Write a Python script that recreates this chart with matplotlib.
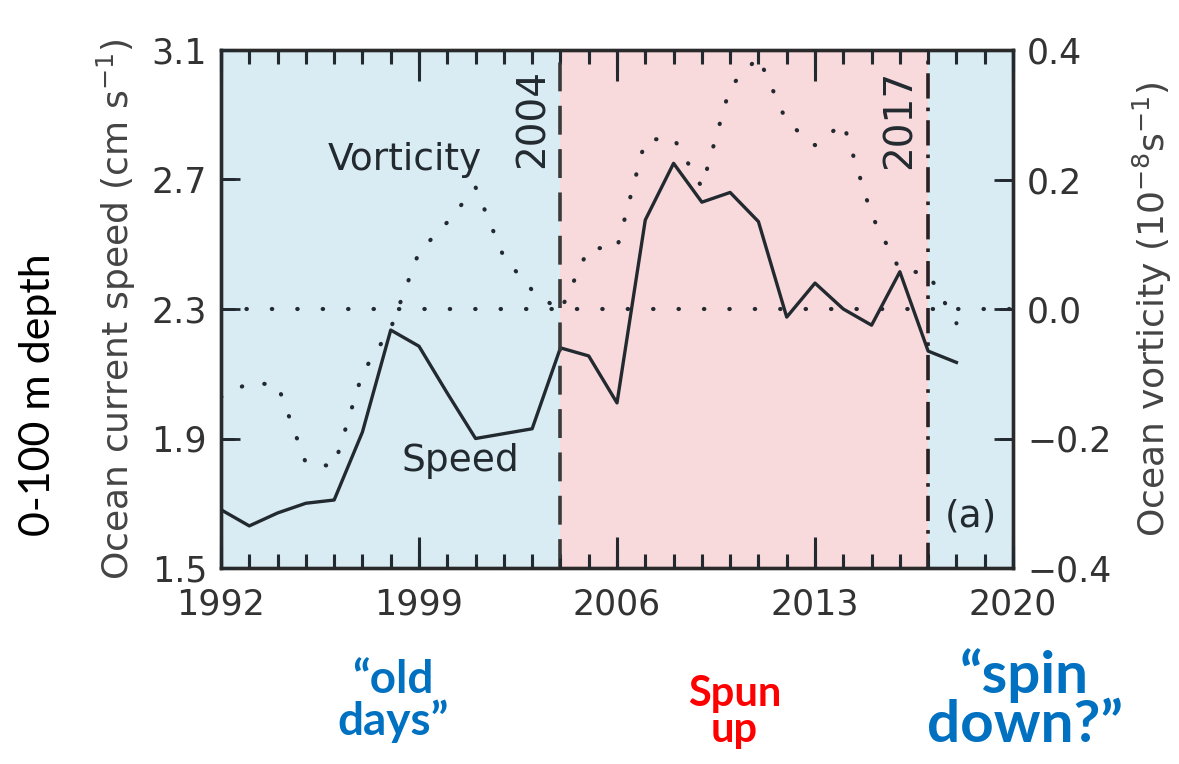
import numpy as np
import matplotlib
matplotlib.use("Agg")
import matplotlib.pyplot as plt
from matplotlib.ticker import MultipleLocator

years = list(range(1992, 2019))
speed = [1.68, 1.63, 1.67, 1.70, 1.71, 1.92, 2.235, 2.185, 2.04, 1.90, 1.915, 1.93, 2.18,
         2.155, 2.01, 2.575, 2.75, 2.63, 2.66, 2.57, 2.275, 2.38, 2.30, 2.25, 2.415, 2.17, 2.135]
vort = [-0.136, -0.114, -0.117, -0.238, -0.243, -0.099, -0.03, 0.088, 0.134, 0.188, 0.080, 0.029, -0.003,
        0.094, 0.094, 0.261, 0.264, 0.188, 0.343, 0.389, 0.289, 0.253, 0.287, 0.145, 0.060, 0.055, -0.022]
period_edges = [1992, 2004, 2017, 2020]
period_colors = ["#d9ecf4", "#f8d9dc", "#d9ecf4"]
xticks = [1992, 1999, 2006, 2013, 2020]
xminor = list(range(1992, 2021))
yticks_left = [1.5, 1.9, 2.3, 2.7, 3.1]
yticks_right = [-0.4, -0.2, 0.0, 0.2, 0.4]

ink = "#222a30"
gray = "#333333"

fig = plt.figure(figsize=(11.79, 7.64), dpi=100)
ax = fig.add_axes([221/1179, 1-568/764, (1013-221)/1179, (568-50)/764])
ax2 = ax.twinx()
ax.set_zorder(2)
ax.patch.set_visible(False)
ax2.set_zorder(1)
ax2.patch.set_visible(True)
ax2.patch.set_facecolor("white")

for i in range(3):
    ax2.axvspan(period_edges[i], period_edges[i+1], color=period_colors[i], lw=0, zorder=0)

ax.plot(years, speed, color=ink, lw=2.4, zorder=3)

ax2.plot(years, vort, color=ink, lw=3, linestyle=(0, (0.1, 5.5)), dash_capstyle="round", zorder=3)
ax2.axhline(0, color=ink, lw=3, linestyle=(0, (0.1, 6)), dash_capstyle="round", zorder=2)

ax.axvline(2004, color="#3a3a3a", lw=2.6, linestyle=(0, (8, 4)), zorder=4)
ax.axvline(2017, color="#2a1f22", lw=2.6, linestyle=(0, (7, 2.5, 1, 2.5)), zorder=4)

ax.set_xlim(1992, 2020)
ax.set_ylim(1.5, 3.1)
ax2.set_ylim(-0.4, 0.4)

ax.set_xticks(xticks)
ax.xaxis.set_minor_locator(MultipleLocator(1))
ax.set_yticks(yticks_left)
ax2.set_yticks(yticks_right)
ax2.set_yticklabels(["\u22120.4", "\u22120.2", "0.0", "0.2", "0.4"])

ax.tick_params(axis="x", which="major", direction="in", length=22, width=2.2, top=True,
               labelsize=25, labelcolor=gray, pad=14, color=ink)
ax.tick_params(axis="x", which="minor", direction="in", length=10, width=2.2, top=True, color=ink)
ax.tick_params(axis="y", which="major", direction="in", length=14, width=2,
               labelsize=25, labelcolor=gray, pad=10, color=ink)
ax2.tick_params(axis="y", which="major", direction="in", length=14, width=2,
                labelsize=25, labelcolor=gray, pad=10, color=ink)

# tick marks again as line collections, the axis tick markers kept dropping out
xt = ax.get_xaxis_transform()
maj_len = 22 / 518
min_len = 10 / 518
ax.vlines(xminor, 0, min_len, transform=xt, color=ink, lw=2.2, clip_on=False, zorder=6)
ax.vlines(xminor, 1 - min_len, 1, transform=xt, color=ink, lw=2.2, clip_on=False, zorder=6)
ax.vlines(xticks, 0, maj_len, transform=xt, color=ink, lw=2.2, clip_on=False, zorder=6)
ax.vlines(xticks, 1 - maj_len, 1, transform=xt, color=ink, lw=2.2, clip_on=False, zorder=6)
ax.hlines(yticks_left, 0, 14 / 792, transform=ax.get_yaxis_transform(), color=ink, lw=2,
          clip_on=False, zorder=6)
ax2.hlines(yticks_right, 1 - 14 / 792, 1, transform=ax2.get_yaxis_transform(), color=ink, lw=2,
           clip_on=False, zorder=6)

for a in (ax, ax2):
    for s in a.spines.values():
        s.set_linewidth(2.4)
        s.set_color("#2a2a2a")

ax.set_ylabel("Ocean current speed (cm s$^{-1}$)", fontsize=26, color="#444444", labelpad=10)
ax2.set_ylabel("Ocean vorticity (10$^{-8}$s$^{-1}$)", fontsize=26, color="#444444", labelpad=14)

ax.text(1998.5, 2.76, "Vorticity", fontsize=27, color=ink, ha="center", va="center", zorder=5)
ax.text(2000.45, 1.83, "Speed", fontsize=27, color=ink, ha="center", va="center", zorder=5)
ax.text(2003.0, 3.04, "2004", fontsize=28, color=ink, rotation=90, ha="center", va="top", zorder=5)
ax.text(2016.0, 3.04, "2017", fontsize=28, color=ink, rotation=90, ha="center", va="top", zorder=5)
ax.text(2018.5, 1.66, "(a)", fontsize=27, color=ink, ha="center", va="center", zorder=5)

fig.text(0.032, 0.483, "0-100 m depth", fontsize=31, rotation=90, ha="center", va="center",
         family="Lato")
fig.text(0.333, 0.082, "\u201cold\ndays\u201d", fontsize=33, color="#0070c0", weight="bold",
         ha="center", va="center", linespacing=0.95, family="Lato")
fig.text(0.623, 0.068, "Spun\nup", fontsize=30, color="#ff0000", weight="bold",
         ha="center", va="center", linespacing=0.95, family="Lato")
fig.text(0.869, 0.084, "\u201cspin\ndown?\u201d", fontsize=42, color="#0070c0", weight="bold",
         ha="center", va="center", linespacing=0.9, family="Lato")

fig.savefig("out.png", dpi=100)
